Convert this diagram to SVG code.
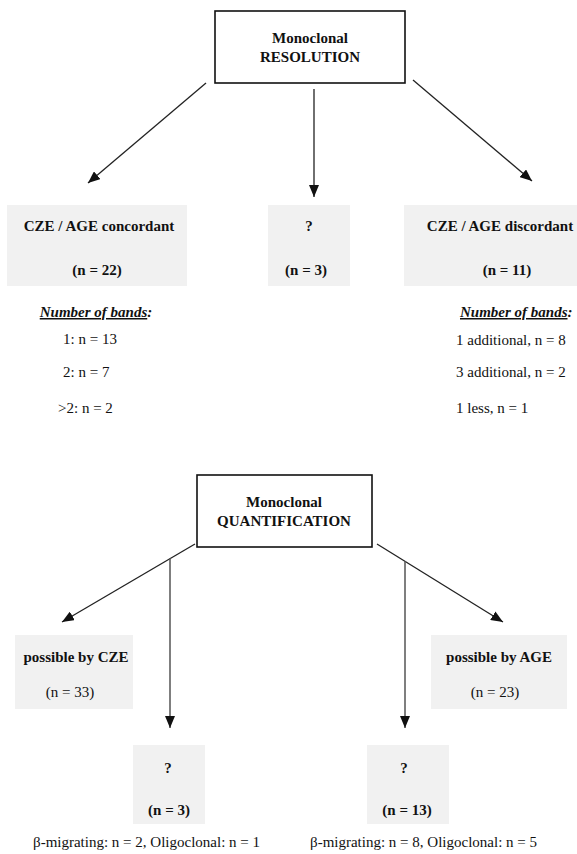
<svg xmlns="http://www.w3.org/2000/svg" width="577" height="854" viewBox="0 0 577 854">
<style>
text{font-family:"Liberation Serif","Times New Roman",serif;font-size:15px;fill:#111}
.b{font-weight:bold}
.c{text-anchor:middle}
.frame{fill:#fff;stroke:#111;stroke-width:1.6}
.grey{fill:#f1f1f1;stroke:none}
.ln{stroke:#222;stroke-width:1.3;fill:none}
.vl{stroke:#555;stroke-width:1.5;fill:none}
</style>
<defs>
<marker id="ah" viewBox="0 0 12 10" refX="12" refY="5" markerWidth="12" markerHeight="10" markerUnits="userSpaceOnUse" orient="auto">
<path d="M0,0 L12,5 L0,10 z" fill="#111"/>
</marker>
</defs>
<rect width="577" height="854" fill="#fff"/>
<g id="connectors">
<line class="ln" x1="206" y1="83" x2="88" y2="183" marker-end="url(#ah)"/>
<line class="ln" x1="314" y1="89" x2="314" y2="197" marker-end="url(#ah)"/>
<line class="ln" x1="413" y1="80" x2="532" y2="181" marker-end="url(#ah)"/>
<line class="ln" x1="195" y1="544" x2="62" y2="622" marker-end="url(#ah)"/>
<line class="ln" x1="377" y1="544" x2="503" y2="622" marker-end="url(#ah)"/>
<line class="vl" x1="170" y1="558" x2="170" y2="728" marker-end="url(#ah)"/>
<line class="vl" x1="405" y1="561" x2="405" y2="728" marker-end="url(#ah)"/>
</g>
<g id="resolution">
<rect class="frame" x="215" y="11" width="190" height="72"/>
<text class="b c" x="310" y="43">Monoclonal</text>
<text class="b c" x="310" y="62">RESOLUTION</text>
</g>
<g id="concordant">
<rect class="grey" x="7" y="205" width="180" height="81"/>
<text class="b c" x="99" y="231">CZE / AGE concordant</text>
<text class="b c" x="97" y="275">(n = 22)</text>
<text class="b c" x="96" y="317" font-style="italic"><tspan text-decoration="underline">Number of bands</tspan>:</text>
<text x="63" y="344">1: n = 13</text>
<text x="63" y="377">2: n = 7</text>
<text x="58" y="413">&gt;2: n = 2</text>
</g>
<g id="unknown1">
<rect class="grey" x="268" y="205" width="82" height="81"/>
<text class="b c" x="309" y="231">?</text>
<text class="b c" x="306" y="275">(n = 3)</text>
</g>
<g id="discordant">
<rect class="grey" x="404" y="205" width="176" height="81"/>
<text class="b c" x="500" y="231">CZE / AGE discordant</text>
<text class="b c" x="507" y="275">(n = 11)</text>
<text class="b" x="460" y="317" font-style="italic"><tspan text-decoration="underline">Number of bands</tspan>:</text>
<text x="456" y="345">1 additional, n = 8</text>
<text x="456" y="377">3 additional, n = 2</text>
<text x="456" y="413">1 less, n = 1</text>
</g>
<g id="quantification">
<rect class="frame" x="197" y="475" width="175" height="72"/>
<text class="b c" x="284" y="507">Monoclonal</text>
<text class="b c" x="284" y="526">QUANTIFICATION</text>
</g>
<g id="byCZE">
<rect class="grey" x="15" y="635" width="118" height="74"/>
<text class="b c" x="76" y="662">possible by CZE</text>
<text class="c" x="70" y="697">(n = 33)</text>
</g>
<g id="byAGE">
<rect class="grey" x="431" y="635" width="136" height="74"/>
<text class="b c" x="499" y="662">possible by AGE</text>
<text class="c" x="495" y="697">(n = 23)</text>
</g>
<g id="unknown2">
<rect class="grey" x="133" y="745" width="72" height="79"/>
<text class="b c" x="168" y="773">?</text>
<text class="b c" x="169" y="815">(n = 3)</text>
<text x="33" y="847">β-migrating: n = 2, Oligoclonal: n = 1</text>
</g>
<g id="unknown3">
<rect class="grey" x="367" y="745" width="82" height="79"/>
<text class="b c" x="404" y="773">?</text>
<text class="b c" x="407" y="815">(n = 13)</text>
<text x="310" y="847">β-migrating: n = 8, Oligoclonal: n = 5</text>
</g>
</svg>
